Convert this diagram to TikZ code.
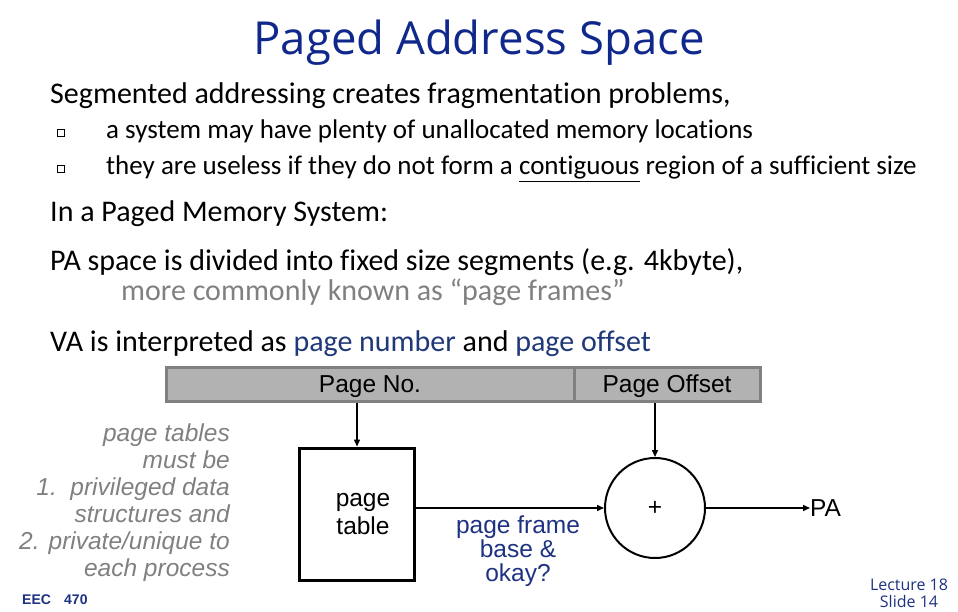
\documentclass[tikz,border=0pt]{standalone}
\usepackage{fontspec}
\setmainfont{Carlito}[Ligatures={NoCommon}]
\newfontfamily\arialf{Liberation Sans}
\newfontfamily\titlef{Open Sans}
\usetikzlibrary{arrows.meta}
\definecolor{titleblue}{RGB}{16,40,140}
\definecolor{textblue}{RGB}{31,56,120}
\definecolor{noteblue}{RGB}{30,50,130}
\definecolor{graytxt}{RGB}{128,128,128}
\definecolor{barfill}{RGB}{178,178,178}
\definecolor{barline}{RGB}{128,128,128}
\tikzset{
  txt/.style={anchor=base west,inner sep=0pt},
  head/.style={txt,font=\fontsize{30}{34}\selectfont},
  bul/.style={txt,font=\fontsize{27}{31}\selectfont},
  note/.style={anchor=base east,inner sep=0pt,text=graytxt,font=\arialf\itshape\fontsize{24.5}{28}\selectfont},
  barcell/.style={draw=barline,line width=3pt,fill=barfill,minimum height=34pt,inner sep=0pt,text depth=0pt,font=\arialf\fontsize{24.5}{28}\selectfont,text=black},
  arr/.style={line width=1.5pt,-{Triangle[length=7pt,width=6pt]}},
  dtext/.style={inner sep=0pt,font=\arialf\fontsize{24.5}{28}\selectfont,align=center},
  bulsq/.style={draw=black,line width=1pt,minimum size=6.5pt,inner sep=0pt}
}
\begin{document}
\begin{tikzpicture}[x=1pt,y=-1pt]
\useasboundingbox (0,0) rectangle (958,612);
% title
\node[anchor=base,inner sep=0pt,text=titleblue,font=\titlef\fontsize{45.5}{50}\selectfont] (title) at (479,55) {Paged Address Space};
% text
\node[head] (t1) at (50,104) {Segmented addressing creates fragmentation problems,};
\node[bulsq] (b1) at (61,133) {};
\node[bulsq] (b2) at (61,169) {};
\node[bul] (l1) at (106,139) {a system may have plenty of unallocated memory locations};
\node[bul] (l2) at (106,175) {they are useless if they do not form a \underline{contiguous} region of a sufficient size};
\node[head] (t2) at (50,222) {In a Paged Memory System:};
\node[head] (t3) at (50,271) {PA space is divided into fixed size segments (e.g. 4kbyte),};
\node[head,text=graytxt] (t4) at (121,301) {more commonly known as “page frames”};
\node[head] (t5) at (50,351) {VA is interpreted as \textcolor{textblue}{page number} and \textcolor{textblue}{page offset}};
% bar
\node[barcell,minimum width=408pt] (pageno) at (370,384) {Page No.};
\node[barcell,minimum width=186pt] (pageoff) at (667,384) {Page Offset};
% page table box
\node[draw,line width=3pt,minimum width=115pt,minimum height=132pt,inner sep=0pt] (ptable) at (357,514) {};
\node[dtext] (ptlab) at (363,514) {page\\table};
% adder
\node[draw,circle,line width=2pt,minimum size=100pt,inner sep=0pt] (adder) at (655,508) {};
\node[inner sep=0pt,font=\arialf\fontsize{24.5}{28}\selectfont] (plus) at (655,508) {+};
\node[anchor=west,inner sep=0pt,font=\arialf\fontsize{24.5}{28}\selectfont] (pa) at (810,508) {PA};
\node[dtext,text=noteblue] (pfb) at (518,551) {page frame\\[-4pt]base \&\\[-4pt]okay?};
% arrows
\draw[arr] (ptable.north |- pageno.south) -- (ptable.north);
\draw[arr] (adder.north |- pageoff.south) -- (adder.north);
\draw[arr] (ptable.east |- adder.west) -- (adder.west);
\draw[arr] (adder.east) -- (pa.west);
% notes
\node[note] (n1) at (230,441) {page tables};
\node[note] (n2) at (230,468) {must be};
\node[note] (n3) at (230,495) {1.\ \ privileged data};
\node[note] (n4) at (230,522) {structures and};
\node[note] (n5) at (230,549) {2. private/unique to};
\node[note] (n6) at (230,576) {each process};
% footer
\node[txt,text=noteblue,font=\arialf\bfseries\fontsize{14}{16}\selectfont] (eec) at (22,604) {EEC};
\node[txt,text=noteblue,font=\arialf\bfseries\fontsize{14}{16}\selectfont] (num) at (64,604) {470};
\node[anchor=base,inner sep=0pt,text=noteblue,font=\titlef\fontsize{16}{18}\selectfont] (lec) at (909,590) {Lecture 18};
\node[anchor=base,inner sep=0pt,text=noteblue,font=\titlef\fontsize{16}{18}\selectfont] (sl) at (909,607) {Slide 14};
\end{tikzpicture}
\end{document}
